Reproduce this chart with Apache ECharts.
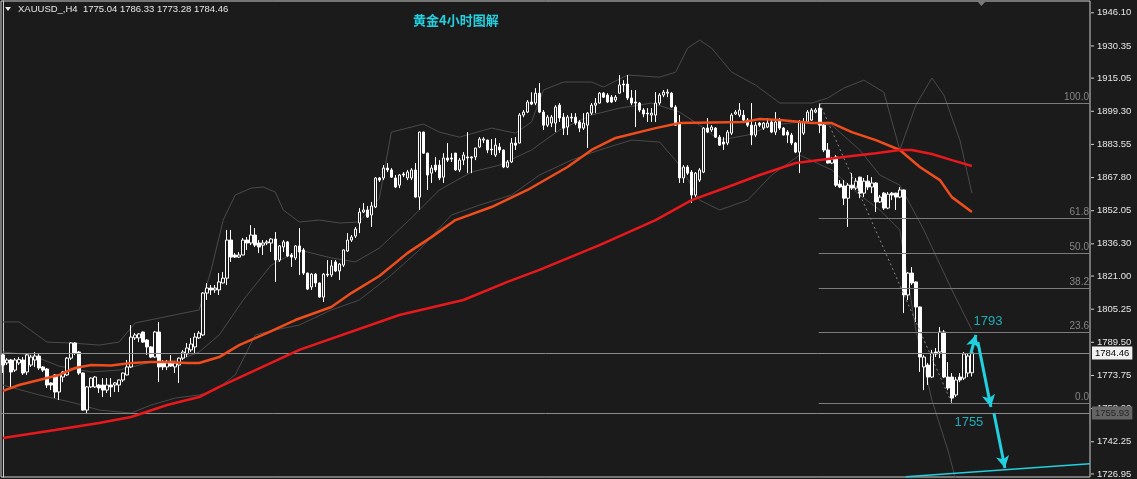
<!DOCTYPE html>
<html><head><meta charset="utf-8">
<script src="https://cdn.jsdelivr.net/npm/echarts@6/dist/echarts.min.js"></script>
<style>html,body{margin:0;padding:0;background:#1b1b1b;}#c{width:1137px;height:479px;}</style>
</head><body><div id="c"></div>
<script>
// ---- DATA ----
const symbolText = 'XAUUSD_,H4  1775.04 1786.33 1773.28 1784.46';
const chartTitle = '黄金4小时图解';
// candles: [open, close, low, high]
const candles = [
[1783.5,1778.7,1774.9,1784.4],[1779.7,1781.1,1778.7,1782.0],[1781.1,1775.4,1768.3,1781.6],[1776.3,1781.1,1775.4,1782.0],[1779.7,1781.3,1778.7,1782.5],
[1781.1,1774.9,1774.0,1782.5],[1775.4,1783.5,1774.0,1784.4],[1778.7,1782.5,1777.8,1783.5],[1781.1,1783.0,1777.8,1784.9],[1783.0,1777.3,1776.3,1784.4],
[1777.8,1776.3,1775.4,1778.2],[1776.8,1769.2,1767.8,1777.3],[1770.2,1769.2,1766.8,1770.4],[1774.0,1765.9,1763.0,1774.4],[1765.9,1774.0,1762.1,1774.4],
[1773.0,1775.4,1770.6,1775.9],[1774.0,1782.0,1773.5,1782.5],[1782.0,1789.2,1781.1,1789.6],[1789.2,1784.4,1783.5,1789.6],[1784.9,1774.9,1774.0,1785.4],
[1774.9,1757.3,1757.0,1775.2],[1757.3,1768.3,1755.9,1768.7],[1768.3,1772.5,1767.8,1772.8],[1768.3,1773.0,1767.8,1773.5],[1769.2,1767.8,1765.4,1769.7],
[1769.2,1766.8,1763.5,1772.5],[1766.8,1769.2,1765.4,1772.5],[1769.2,1768.3,1763.5,1772.5],[1769.2,1770.2,1765.9,1770.6],[1769.2,1771.6,1765.9,1771.8],
[1771.6,1774.9,1770.6,1775.1],[1774.0,1777.8,1773.8,1781.1],[1777.8,1792.0,1777.3,1797.7],[1791.6,1793.0,1790.6,1793.9],[1791.6,1793.5,1789.6,1793.9],
[1794.4,1789.6,1789.2,1794.6],[1790.6,1787.3,1783.5,1791.1],[1787.3,1782.5,1782.0,1787.7],[1782.5,1794.4,1782.0,1794.9],[1794.4,1777.8,1770.6,1799.2],
[1779.7,1777.8,1776.3,1781.1],[1777.8,1779.7,1776.3,1781.1],[1779.7,1778.2,1777.8,1783.5],[1777.8,1779.7,1774.9,1780.6],[1778.7,1782.0,1770.2,1782.3],
[1782.0,1784.9,1781.1,1785.9],[1784.0,1786.8,1782.5,1789.2],[1785.9,1788.7,1784.9,1791.6],[1787.3,1792.0,1784.4,1793.9],[1791.6,1793.9,1791.1,1794.9],
[1793.0,1812.9,1792.5,1813.4],[1812.9,1815.3,1809.6,1817.7],[1815.3,1814.4,1812.0,1816.7],[1814.4,1815.3,1813.0,1816.7],[1814.4,1818.2,1812.0,1822.4],
[1817.7,1820.0,1817.5,1822.9],[1820.0,1838.1,1816.7,1842.9],[1838.1,1830.0,1827.7,1842.9],[1831.0,1830.0,1829.6,1831.9],[1830.0,1831.0,1829.6,1832.4],
[1831.0,1838.1,1830.8,1839.1],[1838.1,1836.7,1833.4,1839.5],[1836.7,1840.5,1835.7,1845.2],[1840.5,1835.7,1834.8,1843.8],[1836.7,1834.8,1831.9,1838.1],
[1835.7,1836.7,1831.0,1838.1],[1836.7,1837.2,1835.7,1838.1],[1836.7,1838.6,1832.4,1839.1],[1838.6,1828.6,1818.2,1841.9],[1828.6,1835.3,1827.7,1835.7],
[1834.8,1837.2,1832.4,1838.1],[1837.2,1830.5,1830.0,1837.6],[1831.0,1830.0,1825.3,1831.9],[1829.6,1835.3,1828.6,1835.7],[1835.3,1832.4,1821.5,1843.8],
[1833.4,1822.4,1821.5,1834.3],[1822.4,1814.8,1814.4,1822.6],[1815.8,1821.9,1814.4,1822.4],[1821.9,1817.7,1815.8,1822.4],[1817.7,1811.0,1810.8,1817.9],
[1811.0,1821.9,1808.7,1822.4],[1821.9,1821.5,1820.5,1828.6],[1821.5,1825.8,1820.5,1828.6],[1827.7,1823.4,1822.9,1828.6],[1823.4,1826.7,1819.1,1827.2],
[1826.2,1833.4,1825.3,1833.6],[1832.9,1838.1,1832.4,1841.4],[1838.1,1839.5,1837.2,1840.5],[1840.0,1843.3,1839.1,1844.3],[1846.2,1851.4,1841.4,1853.3],
[1851.4,1852.4,1850.9,1855.7],[1852.4,1849.0,1848.6,1854.3],[1850.0,1854.3,1844.3,1856.2],[1853.8,1867.6,1853.3,1868.0],[1867.6,1866.6,1865.7,1868.0],
[1867.6,1872.3,1866.6,1873.7],[1872.3,1871.4,1870.4,1874.7],[1871.4,1868.0,1867.6,1872.3],[1867.6,1863.3,1862.8,1869.0],[1864.2,1869.0,1862.8,1869.5],
[1869.5,1869.0,1868.0,1870.4],[1867.6,1870.4,1866.6,1871.4],[1867.6,1871.4,1866.6,1872.3],[1871.4,1858.5,1858.3,1874.7],[1858.5,1889.4,1852.4,1889.6],
[1889.4,1879.4,1879.2,1889.6],[1879.4,1869.0,1861.9,1879.6],[1869.9,1872.3,1865.2,1873.7],[1873.7,1871.4,1870.4,1877.6],[1873.7,1867.6,1866.6,1876.1],
[1868.0,1877.1,1865.2,1879.4],[1877.1,1876.1,1875.2,1884.2],[1877.1,1876.6,1875.2,1879.4],[1879.4,1871.4,1870.9,1879.6],[1871.4,1876.1,1870.4,1877.1],
[1876.1,1878.5,1873.7,1879.9],[1877.6,1877.1,1869.9,1889.4],[1877.6,1877.1,1869.9,1877.8],[1877.6,1881.8,1876.1,1882.0],[1882.3,1886.1,1881.8,1887.0],
[1885.6,1886.1,1884.2,1887.0],[1885.6,1880.9,1879.4,1885.8],[1881.3,1880.9,1878.5,1886.1],[1878.5,1883.2,1877.6,1886.6],[1882.3,1880.9,1879.4,1884.2],
[1880.9,1872.8,1872.3,1881.1],[1872.8,1875.2,1872.3,1876.1],[1875.2,1884.2,1874.7,1886.6],[1884.2,1883.2,1880.9,1887.0],[1884.2,1897.5,1884.0,1898.4],
[1897.5,1898.9,1896.5,1899.9],[1898.9,1903.7,1898.4,1904.6],[1903.7,1902.7,1902.2,1908.3],[1903.2,1907.9,1902.2,1910.3],[1907.9,1898.9,1898.4,1912.7],
[1898.9,1892.7,1890.4,1899.9],[1892.7,1896.5,1891.8,1897.5],[1893.7,1896.5,1891.8,1897.5],[1893.7,1901.3,1889.4,1902.2],[1902.2,1896.1,1894.2,1903.2],
[1896.5,1891.3,1888.0,1898.4],[1891.8,1896.5,1888.0,1897.5],[1896.5,1896.1,1894.2,1898.4],[1896.5,1893.7,1892.7,1898.4],[1894.2,1891.3,1889.4,1895.1],
[1891.3,1893.7,1890.4,1898.4],[1892.7,1898.4,1881.8,1898.9],[1898.4,1902.2,1897.5,1903.2],[1902.2,1903.2,1898.4,1905.6],[1903.2,1907.9,1903.0,1908.4],
[1907.9,1906.0,1905.6,1908.4],[1907.0,1903.7,1903.2,1907.9],[1906.0,1903.7,1903.2,1907.0],[1904.6,1906.0,1903.7,1907.0],[1907.9,1911.8,1907.7,1916.5],
[1912.2,1911.8,1908.4,1914.1],[1912.2,1905.6,1904.6,1916.5],[1905.6,1903.2,1902.2,1909.4],[1903.7,1903.2,1891.8,1909.4],[1903.2,1899.9,1898.9,1903.7],
[1899.9,1898.0,1896.5,1900.8],[1898.4,1898.0,1894.2,1900.8],[1897.5,1898.4,1894.2,1900.8],[1897.5,1903.2,1894.2,1908.4],[1903.2,1907.0,1902.2,1907.9],
[1907.0,1908.4,1906.0,1909.4],[1907.9,1908.4,1906.0,1909.8],[1907.9,1901.3,1901.1,1908.4],[1901.3,1892.7,1892.5,1902.2],[1893.7,1867.6,1865.2,1897.5],
[1867.6,1872.8,1865.2,1873.7],[1872.8,1869.9,1869.0,1873.7],[1870.4,1859.5,1855.7,1871.4],[1859.5,1869.9,1858.5,1870.4],[1866.6,1871.4,1865.7,1872.3],
[1870.4,1891.3,1869.9,1891.8],[1891.3,1889.4,1888.9,1896.1],[1890.4,1891.8,1889.4,1892.7],[1891.3,1887.0,1886.6,1891.8],[1887.0,1883.2,1883.0,1888.0],
[1884.7,1883.7,1880.9,1887.0],[1884.2,1889.4,1883.2,1890.4],[1888.9,1897.5,1888.0,1898.4],[1898.0,1898.9,1897.5,1899.9],[1897.5,1899.9,1896.5,1903.2],
[1897.5,1895.1,1894.2,1899.9],[1895.1,1892.7,1891.8,1896.1],[1892.7,1888.0,1883.2,1903.2],[1888.0,1892.7,1887.0,1894.2],[1893.7,1892.7,1891.8,1894.2],
[1891.3,1893.7,1890.4,1894.2],[1891.8,1893.7,1891.3,1896.1],[1894.2,1889.4,1888.9,1895.1],[1889.4,1894.2,1888.0,1898.9],[1895.1,1891.3,1890.4,1896.1],
[1891.3,1888.0,1887.8,1891.8],[1889.4,1888.0,1884.2,1890.4],[1888.0,1884.2,1883.2,1889.0],[1884.2,1879.9,1879.4,1884.7],[1879.9,1894.2,1869.9,1895.1],
[1888.9,1894.2,1888.0,1896.1],[1894.2,1898.9,1893.7,1899.9],[1895.1,1899.9,1894.7,1900.8],[1898.9,1899.9,1898.4,1900.8],[1900.8,1892.7,1888.9,1903.06],
[1892.7,1880.9,1879.9,1893.7],[1880.9,1874.7,1874.5,1884.2],[1874.7,1876.6,1874.2,1877.6],[1877.6,1864.2,1863.3,1878.5],[1864.7,1863.3,1862.8,1866.6],
[1863.8,1858.0,1854.7,1866.6],[1858.0,1864.2,1844.3,1865.2],[1864.2,1862.8,1861.9,1869.9],[1862.8,1866.1,1861.9,1867.6],[1868.0,1860.4,1858.0,1868.2],
[1860.4,1866.1,1858.5,1867.6],[1866.1,1863.3,1861.9,1869.0],[1863.3,1865.2,1860.4,1868.0],[1865.2,1856.2,1851.4,1865.7],[1856.2,1858.5,1855.7,1859.5],
[1860.4,1853.3,1852.4,1860.9],[1853.3,1859.9,1852.8,1860.9],[1860.4,1859.5,1857.1,1860.9],[1860.4,1858.5,1852.4,1860.6],[1858.5,1861.9,1858.0,1863.3],
[1861.9,1812.0,1803.4,1862.2],[1812.0,1822.4,1809.6,1822.9],[1822.4,1817.7,1816.7,1825.3],[1818.2,1806.3,1799.2,1818.4],[1806.3,1782.5,1775.4,1806.5],
[1777.8,1782.5,1766.8,1783.5],[1778.7,1773.0,1769.2,1779.7],[1773.0,1784.4,1772.5,1785.9],[1784.9,1784.0,1782.5,1786.8],[1784.9,1794.4,1782.0,1796.8],
[1794.4,1773.0,1772.5,1795.3],[1773.0,1767.8,1766.8,1780.1],[1773.0,1763.0,1760.5,1774.9],[1764.5,1771.6,1763.5,1773.0],[1773.0,1771.6,1770.6,1774.9],
[1772.5,1784.0,1771.6,1784.9],[1774.9,1783.0,1773.0,1784.4],[1775.04,1784.46,1773.28,1786.33]
];
// moving averages: [barIndex, price]
const maFast = [[0,1766.4],[4,1769.2],[9,1771.6],[14,1774.0],[18,1777.3],[22,1778.7],[27,1778.5],[32,1779.7],[37,1780.1],[41,1780.1],[46,1779.7],[49,1779.7],[54,1782.5],[59,1788.2],[67,1794.8],[73,1800.1],[82,1806.3],[87,1812.9],[94,1821.0],[101,1831.9],[107,1839.5],[113,1847.6],[122,1853.8],[131,1861.9],[141,1872.8],[147,1880.9],[153,1886.6],[163,1891.3],[169,1893.7],[185,1894.2],[189,1895.6],[194,1895.1],[202,1893.7],[207,1893.7],[212,1889.4],[218,1885.6],[224,1880.9],[229,1872.8],[234,1866.6],[237,1858.5],[242,1851.4]];
const maSlow = [[0,1744.0],[13,1747.8],[24,1751.2],[32,1754.0],[41,1759.7],[49,1763.5],[54,1768.3],[74,1785.9],[99,1802.5],[115,1809.6],[126,1818.2],[134,1823.9],[149,1835.7],[163,1847.6],[172,1857.1],[181,1863.3],[189,1869.0],[198,1874.7],[206,1876.6],[212,1878.0],[218,1879.4],[224,1880.9],[227,1880.9],[232,1879.0],[237,1876.1],[242,1873.3]];
const bbUpper = [[0,1799.2],[4,1799.2],[11,1789.6],[17,1789.2],[24,1788.2],[29,1789.6],[33,1798.7],[39,1801.0],[49,1804.9],[52,1823.9],[55,1847.6],[58,1859.5],[62,1862.8],[65,1863.3],[68,1860.9],[70,1852.4],[74,1846.7],[79,1847.6],[84,1846.2],[89,1846.7],[94,1858.0],[97,1889.4],[102,1891.8],[105,1893.2],[109,1889.4],[114,1887.0],[122,1891.3],[128,1888.9],[132,1894.2],[135,1909.4],[140,1913.2],[147,1913.2],[150,1910.8],[156,1916.5],[164,1915.5],[168,1917.9],[171,1929.3],[174,1933.1],[177,1929.3],[182,1917.9],[188,1911.7],[194,1903.2],[202,1903.2],[206,1905.6],[210,1910.3],[215,1914.1],[220,1908.4],[224,1880.9],[228,1902.2],[232,1915.1],[235,1907.0],[239,1885.6],[242,1860.4]];
const bbMiddle = [[0,1784.9],[7,1783.5],[14,1778.2],[22,1775.4],[29,1776.3],[37,1780.1],[44,1781.1],[49,1784.9],[54,1793.0],[60,1809.6],[67,1826.2],[74,1833.4],[82,1829.6],[88,1827.7],[94,1834.3],[102,1848.6],[109,1861.9],[117,1870.4],[124,1873.7],[132,1880.9],[139,1890.4],[147,1897.5],[154,1900.8],[162,1903.2],[169,1898.9],[174,1892.7],[179,1885.6],[186,1888.0],[192,1892.7],[199,1894.2],[207,1892.7],[214,1880.9],[219,1869.0],[224,1864.2],[230,1842.9],[237,1814.4],[242,1795.4]];
const bbLower = [[0,1769.2],[9,1764.5],[18,1760.6],[24,1757.3],[32,1755.9],[37,1759.7],[43,1763.0],[49,1764.5],[53,1766.8],[58,1774.0],[63,1793.0],[68,1795.4],[74,1797.7],[82,1804.9],[89,1809.6],[97,1821.5],[104,1833.4],[112,1850.0],[119,1854.7],[127,1859.5],[134,1869.0],[142,1876.1],[149,1880.9],[157,1885.6],[164,1884.7],[169,1873.7],[174,1857.1],[179,1852.4],[186,1857.1],[192,1869.0],[199,1878.5],[207,1871.4],[214,1859.5],[219,1852.4],[224,1842.9],[228,1795.4],[232,1762.1],[236,1738.3],[238,1724.1]];
const yTicks = [1946.10,1930.35,1915.05,1899.30,1883.55,1867.80,1852.05,1836.30,1821.00,1805.25,1789.50,1773.75,1758.00,1742.25,1726.95];
const fibLabels = ['100.0','61.8','50.0','38.2','23.6','0.0'];
const fibPrices = [1903.06,1848.6,1831.8,1815.0,1794.2,1760.5];
const fibStartBar = 203.75;
const currentPrice = 1784.46;
const levelPrice = 1755.93;
const fibDiagonal = [[204,1903.06],[237,1760.5]];
const arrowUp = [[241.75,1784.4],[243,1793.0]];
const arrowDown1 = [[243.5,1789.6],[246.75,1758.8]];
const arrowDown2 = [[247.5,1755.9],[250.25,1729.8]];
const trendLine = [[225.5,1725.65],[271.5,1731.8]];
const noteLabels = [[246,1799.5,'1793'],[241.25,1751.6,'1755']];
const totalSlots = 272;

// ---- CHART ----
const BG = '#1b1b1b', CYAN = '#22d0e0';
const chart = echarts.init(document.getElementById('c'), null, {renderer:'canvas'});
const cats = candles.map((_, i) => String(i));
while (cats.length < totalSlots) cats.push(String(cats.length));
const lastX = totalSlots - 0.5;

function lineSeries(name, data, color, width, type) {
  return {type:'line', name, xAxisIndex:1, yAxisIndex:0, data, symbol:'none', smooth:false,
    lineStyle:{color, width, type: type || 'solid'}, silent:true, z:3};
}
function seg(p, extra) {
  return [Object.assign({coord:p[0], symbol:'none'}, extra||{}), {coord:p[1], symbol:'none'}];
}

const option = {
  backgroundColor: BG,
  animation: false,
  textStyle: {fontFamily: 'Liberation Sans, Arial, sans-serif'},
  title: [
    {text: symbolText, left: 18, top: 4, padding: 0,
     textStyle:{color:'#e6e6e6', fontSize:9.5, fontWeight:'normal', fontFamily:'Liberation Sans'}},
    {text: chartTitle, left: 413, top: 14, padding: 0,
     textStyle:{color:CYAN, fontSize:13, fontWeight:'bold', fontFamily:'Noto Sans CJK SC'}}
  ],
  graphic: [
    {type:'polygon', shape:{points:[[5,7],[11,7],[8,11]]}, style:{fill:'#e6e6e6'}},
    {type:'polygon', shape:{points:[[977,1],[986,1],[981.5,6]]}, style:{fill:'#7a7a7a'}}
  ],
  grid: {left:1, right:47, top:1, bottom:2, show:true, borderColor:'#d0d0d0', borderWidth:1, backgroundColor:'transparent'},
  xAxis: [
    {type:'category', data:cats, boundaryGap:true, show:false},
    {type:'value', min:-0.5, max:lastX, show:false}
  ],
  yAxis: [{
    type:'value', position:'right', min:1725.5, max:1951.7, scale:true,
    splitLine:{show:false},
    axisLine:{show:true, lineStyle:{color:'#d0d0d0', width:1}},
    axisTick:{show:false},
    axisLabel:{show:true, customValues:yTicks, margin:1, color:'#e6e6e6', fontSize:9.5,
      fontFamily:'Liberation Sans',
      formatter: v => '{t|}{v|' + Number(v).toFixed(2) + '}',
      rich:{
        t:{width:3, height:1, backgroundColor:'#d0d0d0', verticalAlign:'middle'},
        v:{padding:[0,0,0,3], color:'#e6e6e6', fontSize:9.5, fontFamily:'Liberation Sans'}
      }}
  }],
  series: [
    lineSeries('BB upper', bbUpper, '#4a4a4a', 1),
    lineSeries('BB middle', bbMiddle, '#4a4a4a', 1),
    lineSeries('BB lower', bbLower, '#4a4a4a', 1),
    {type:'line', xAxisIndex:1, yAxisIndex:0, data:[], silent:true, z:2,
     markLine:{silent:true, symbol:'none', animation:false,
       data: fibPrices.map((p, k) => seg([[fibStartBar, p],[lastX, p]], {
         lineStyle:{color:'#7c7c7c', width:1, type:'solid'},
         label:{show:true, position:'insideEndTop', formatter:fibLabels[k], color:'#858585', fontSize:10, distance:1}
       })).concat([
         seg(fibDiagonal, {lineStyle:{color:'#8a8a8a', width:1, type:[2,3]}, label:{show:false}})
       ])
     }},
    {type:'line', xAxisIndex:1, yAxisIndex:0, data:[], silent:true, z:2,
     markLine:{silent:true, symbol:'none', animation:false,
       data:[
         seg([[-0.5,currentPrice],[lastX,currentPrice]], {lineStyle:{color:'#8c8c8c', width:1, type:'solid'},
           label:{show:true, position:'end', formatter:currentPrice.toFixed(2), color:'#000', backgroundColor:'#f0f0f0',
             padding:[2,3,1,3], fontSize:9.5, distance:2}}),
         seg([[-0.5,levelPrice],[lastX,levelPrice]], {lineStyle:{color:'#8c8c8c', width:1, type:'solid'},
           label:{show:true, position:'end', formatter:levelPrice.toFixed(2), color:'#262626', backgroundColor:'#646464',
             padding:[2,3,1,3], fontSize:9.5, distance:2}})
       ]}},
    {type:'candlestick', name:'XAUUSD', xAxisIndex:0, yAxisIndex:0, data:candles, barWidth:3, z:4,
     itemStyle:{color:BG, color0:'#ffffff', borderColor:'#ffffff', borderColor0:'#ffffff', borderWidth:1}},
    Object.assign(lineSeries('MA fast', maFast, '#f04d1c', 2.5), {z:5}),
    Object.assign(lineSeries('MA slow', maSlow, '#e8181c', 2.5), {z:5}),
    {type:'line', xAxisIndex:1, yAxisIndex:0, data:[], silent:true, z:6,
     markLine:{silent:true, animation:false, symbol:'none',
       data:[
         seg(trendLine, {lineStyle:{color:CYAN, width:1.5, type:'solid'}, label:{show:false}}),
         [{coord:arrowUp[0], symbol:'none', lineStyle:{color:CYAN, width:3, type:'solid'}, label:{show:false}},
          {coord:arrowUp[1], symbol:'arrow', symbolSize:[10,12]}],
         [{coord:arrowDown1[0], symbol:'none', lineStyle:{color:CYAN, width:3, type:'solid'}, label:{show:false}},
          {coord:arrowDown1[1], symbol:'arrow', symbolSize:[10,12]}],
         [{coord:arrowDown2[0], symbol:'none', lineStyle:{color:CYAN, width:3, type:'solid'}, label:{show:false}},
          {coord:arrowDown2[1], symbol:'arrow', symbolSize:[10,12]}]
       ]}},
    {type:'scatter', xAxisIndex:1, yAxisIndex:0, data:noteLabels, symbolSize:1, z:7, silent:true,
     itemStyle:{color:'rgba(0,0,0,0)'},
     label:{show:true, position:'inside', formatter: p => p.value[2], color:CYAN, fontSize:13, fontFamily:'Liberation Sans'}}
  ]
};
chart.setOption(option);
</script></body></html>
